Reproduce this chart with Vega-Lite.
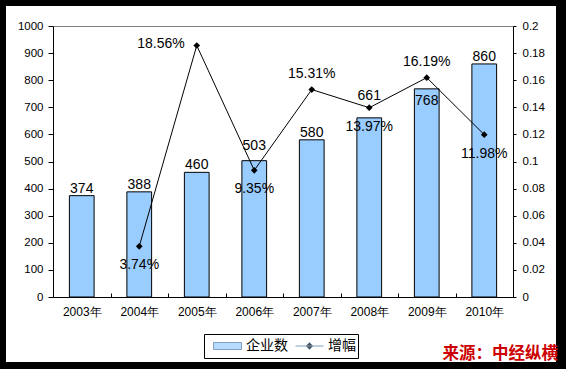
{
  "$schema": "https://vega.github.io/schema/vega-lite/v6.json",
  "autosize": {"type": "none"},
  "width": 550,
  "height": 356,
  "padding": {"left": 6, "top": 6, "right": 10, "bottom": 7},
  "background": "black",
  "config": {
    "view": {"fill": "white", "stroke": null},
    "font": "Liberation Sans",
    "text": {"font": "Liberation Sans", "fontSize": 14, "color": "black"}
  },
  "title": {
    "text": "来源：中经纵横",
    "orient": "bottom",
    "anchor": "end",
    "offset": -16,
    "dx": 2,
    "color": "#CC0000",
    "font": "Noto Sans CJK SC",
    "fontSize": 16.5,
    "fontWeight": "bold"
  },
  "data": {
    "values": [
      {"year": "2003年", "count": 374, "growth": null},
      {"year": "2004年", "count": 388, "growth": 0.0374},
      {"year": "2005年", "count": 460, "growth": 0.1856},
      {"year": "2006年", "count": 503, "growth": 0.0935},
      {"year": "2007年", "count": 580, "growth": 0.1531},
      {"year": "2008年", "count": 661, "growth": 0.1397},
      {"year": "2009年", "count": 768, "growth": 0.1619},
      {"year": "2010年", "count": 860, "growth": 0.1198}
    ]
  },
  "encoding": {
    "x": {
      "field": "year",
      "type": "nominal",
      "sort": null,
      "scale": {"range": [47, 507], "paddingInner": 0, "paddingOuter": 0},
      "axis": {
        "orient": "bottom",
        "offset": -65,
        "title": null,
        "labelAngle": 0,
        "tickBand": "extent",
        "tickSize": -4,
        "labelPadding": 13,
        "tickColor": "black",
        "domainColor": "black",
        "labelColor": "black",
        "labelFontSize": 12,
        "labelFont": "Liberation Sans"
      }
    }
  },
  "layer": [
    {
      "encoding": {
        "y": {
          "field": "count",
          "type": "quantitative",
          "scale": {"domain": [0, 1000], "range": [291, 20], "nice": false, "zero": true},
          "axis": {
            "orient": "left",
            "offset": -47,
            "title": null,
            "format": "d",
            "values": [0, 100, 200, 300, 400, 500, 600, 700, 800, 900, 1000],
            "tickSize": 5,
            "labelPadding": 5,
            "tickColor": "black",
            "domainColor": "black",
            "labelColor": "black",
            "labelFontSize": 11.5,
            "grid": true,
            "gridColor": "#808080",
            "gridOpacity": {"condition": {"test": "datum.value === 1000", "value": 1}, "value": 0}
          }
        }
      },
      "layer": [
        {
          "mark": {"type": "bar", "width": {"band": 0.43}, "stroke": "black", "strokeWidth": 1},
          "encoding": {
            "color": {
              "datum": "企业数",
              "scale": {"domain": ["企业数", "增幅"], "range": ["#99CCFF", "#000000"]},
              "legend": {
                "orient": "none",
                "legendX": 198,
                "legendY": 328,
                "direction": "horizontal",
                "title": null,
                "strokeColor": "black",
                "fillColor": "white",
                "padding": 2,
                "symbolSize": 784,
                "symbolStrokeColor": "black",
                "symbolStrokeWidth": 1,
                "symbolOpacity": 1,
                "clipHeight": 20,
                "symbolOffset": 7,
                "labelOffset": 4,
                "columnPadding": 0,
                "labelFont": "Noto Sans CJK SC",
                "labelFontSize": 14,
                "labelColor": "black"
              }
            }
          }
        },
        {
          "transform": [{"filter": {"field": "year", "oneOf": ["2003年", "2004年", "2005年", "2007年", "2010年"]}}],
          "mark": {"type": "text", "baseline": "alphabetic", "dy": -3},
          "encoding": {"text": {"field": "count", "type": "quantitative"}}
        },
        {
          "transform": [{"filter": {"field": "year", "equal": "2006年"}}],
          "mark": {"type": "text", "baseline": "alphabetic", "dy": -11},
          "encoding": {"text": {"field": "count", "type": "quantitative"}}
        },
        {
          "transform": [{"filter": {"field": "year", "equal": "2008年"}}],
          "mark": {"type": "text", "baseline": "alphabetic", "dy": -18},
          "encoding": {"text": {"field": "count", "type": "quantitative"}}
        },
        {
          "transform": [{"filter": {"field": "year", "equal": "2009年"}}],
          "mark": {"type": "text", "baseline": "alphabetic", "dy": 16},
          "encoding": {"text": {"field": "count", "type": "quantitative"}}
        }
      ]
    },
    {
      "transform": [{"filter": "datum.growth != null"}],
      "encoding": {
        "y": {
          "field": "growth",
          "type": "quantitative",
          "scale": {"domain": [0, 0.2], "range": [291, 20], "nice": false, "zero": true},
          "axis": {
            "orient": "right",
            "offset": -43,
            "title": null,
            "values": [0, 0.02, 0.04, 0.06, 0.08, 0.1, 0.12, 0.14, 0.16, 0.18, 0.2],
            "format": ".2~f",
            "tickSize": 3,
            "labelPadding": 6,
            "tickColor": "black",
            "domainColor": "black",
            "labelColor": "black",
            "labelFontSize": 11.5,
            "grid": false
          }
        }
      },
      "layer": [
        {
          "mark": {"type": "line", "strokeWidth": 1, "color": "black"}
        },
        {
          "mark": {"type": "point", "shape": "diamond", "filled": true, "color": "black", "size": 45, "opacity": 1}
        },
        {
          "transform": [{"filter": "false"}],
          "mark": {"type": "point"},
          "encoding": {
            "shape": {
              "datum": "增幅",
              "scale": {"domain": ["企业数", "增幅"], "range": ["M-1,-0.25H1V0.25H-1Z", "M-1,0H1M0,-0.25L0.25,0L0,0.25L-0.25,0Z"]}
            }
          }
        },
        {
          "transform": [{"filter": {"field": "year", "oneOf": ["2004年", "2006年", "2008年", "2010年"]}}],
          "mark": {"type": "text", "baseline": "middle", "dy": 19},
          "encoding": {"text": {"field": "growth", "type": "quantitative", "format": ".2%"}}
        },
        {
          "transform": [{"filter": {"field": "year", "oneOf": ["2007年", "2009年"]}}],
          "mark": {"type": "text", "baseline": "middle", "dy": -16},
          "encoding": {"text": {"field": "growth", "type": "quantitative", "format": ".2%"}}
        },
        {
          "transform": [{"filter": {"field": "year", "equal": "2005年"}}],
          "mark": {"type": "text", "baseline": "middle", "align": "right", "dx": -12, "dy": -2},
          "encoding": {"text": {"field": "growth", "type": "quantitative", "format": ".2%"}}
        }
      ]
    }
  ],
  "resolve": {"scale": {"y": "independent"}}
}
